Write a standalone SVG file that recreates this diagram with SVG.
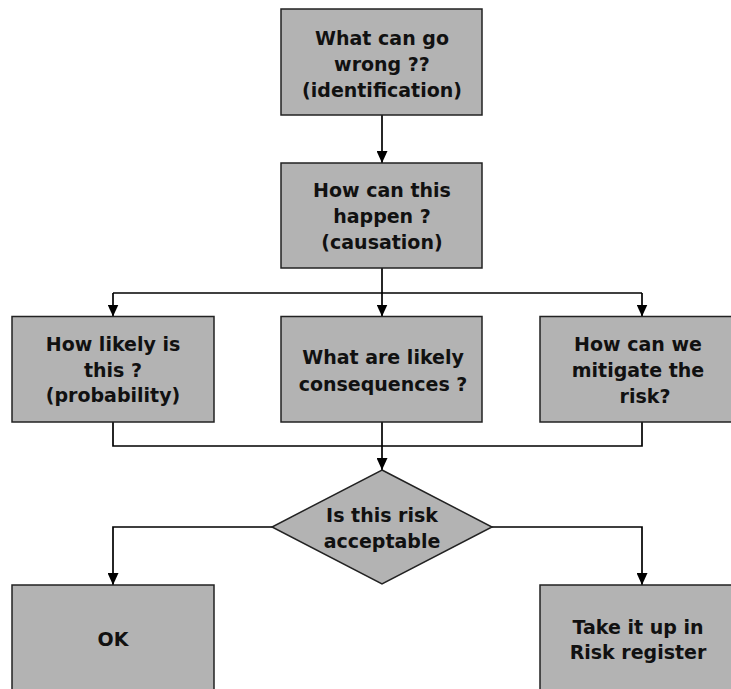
<svg xmlns="http://www.w3.org/2000/svg" width="731" height="689" viewBox="0 0 731 689">
  <style>
    .box { fill: #b3b3b3; stroke: #222; stroke-width: 1.5; }
    .lbl { font-family: "DejaVu Sans", "Liberation Sans", sans-serif; font-weight: bold; font-size: 19px; fill: #111; text-anchor: middle; }
    .conn { fill: none; stroke: #000; stroke-width: 1.7; }
  </style>
  <defs>
    <marker id="arr" viewBox="0 0 12 11" refX="12" refY="5.5" markerWidth="12" markerHeight="11" markerUnits="userSpaceOnUse" orient="auto">
      <path d="M0,0 L12,5.5 L0,11 z" fill="#000"/>
    </marker>
  </defs>
  <rect width="731" height="689" fill="#fff"/>

  <g id="connectors">
    <path class="conn" d="M382,115 V163" marker-end="url(#arr)"/>
    <path class="conn" d="M382,268 V293"/>
    <path class="conn" d="M113,293 H642"/>
    <path class="conn" d="M113,293 V316.5" marker-end="url(#arr)"/>
    <path class="conn" d="M382,293 V316.5" marker-end="url(#arr)"/>
    <path class="conn" d="M642,293 V316.5" marker-end="url(#arr)"/>
    <path class="conn" d="M113,422 V446 H642 V422"/>
    <path class="conn" d="M382,422 V470" marker-end="url(#arr)"/>
    <path class="conn" d="M272,527 H113 V585" marker-end="url(#arr)"/>
    <path class="conn" d="M492,527 H642 V585" marker-end="url(#arr)"/>
  </g>

  <g id="identification">
    <rect class="box" x="281" y="9" width="201" height="106"/>
    <text class="lbl" x="382" y="45">What can go</text>
    <text class="lbl" x="382" y="71">wrong ??</text>
    <text class="lbl" x="382" y="97">(identification)</text>
  </g>

  <g id="causation">
    <rect class="box" x="281" y="163" width="201" height="105"/>
    <text class="lbl" x="382" y="197">How can this</text>
    <text class="lbl" x="382" y="223">happen ?</text>
    <text class="lbl" x="382" y="249">(causation)</text>
  </g>

  <g id="probability">
    <rect class="box" x="12" y="316.5" width="202" height="105.5"/>
    <text class="lbl" x="113" y="351">How likely is</text>
    <text class="lbl" x="113" y="377">this ?</text>
    <text class="lbl" x="113" y="402">(probability)</text>
  </g>

  <g id="consequences">
    <rect class="box" x="281" y="316.5" width="201" height="105.5"/>
    <text class="lbl" x="383" y="364">What are likely</text>
    <text class="lbl" x="383" y="391">consequences ?</text>
  </g>

  <g id="mitigation">
    <rect class="box" x="540" y="316.5" width="202" height="105.5"/>
    <text class="lbl" x="638" y="351">How can we</text>
    <text class="lbl" x="638" y="377">mitigate the</text>
    <text class="lbl" x="645" y="403">risk?</text>
  </g>

  <g id="decision">
    <polygon class="box" points="382,470 492,527 382,584 272,527"/>
    <text class="lbl" x="382" y="522">Is this risk</text>
    <text class="lbl" x="382" y="548">acceptable</text>
  </g>

  <g id="ok">
    <rect class="box" x="12" y="585" width="202" height="110"/>
    <text class="lbl" x="113" y="646">OK</text>
  </g>

  <g id="register">
    <rect class="box" x="540" y="585" width="202" height="110"/>
    <text class="lbl" x="638" y="634">Take it up in</text>
    <text class="lbl" x="638" y="659">Risk register</text>
  </g>
</svg>
